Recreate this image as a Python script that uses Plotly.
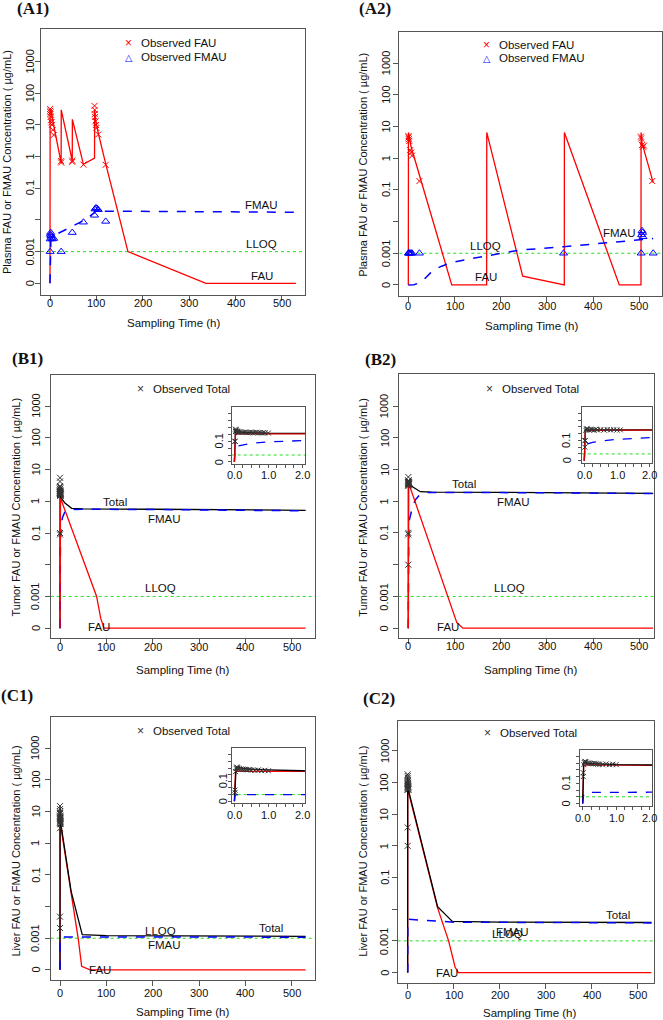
import math
import plotly.graph_objects as go

W, H = 663, 1020
ZERO = 1e-4          # position used for "0" on the pseudo-log axis
LLOQ = 0.001
FONT = "Liberation Sans, Arial, DejaVu Sans, sans-serif"
SERIF = "Liberation Serif, Times New Roman, serif"
FRAME = "#555555"

Y_TICKS = [1e-4, 1e-3, 1e-2, 0.1, 1, 10, 100, 1000]
Y_TEXT = ["0", "0.001", "", "0.1", "1", "10", "100", "1000"]
Y_TEXT_INSET = ["0", "", "", "0.1", "", "", "", ""]
X_TICKS = [0, 100, 200, 300, 400, 500]
X_TEXT = ["0", "100", "200", "300", "400", "500"]
X_TICKS_INSET = [0, 0.25, 0.5, 0.75, 1.0, 1.25, 1.5, 1.75, 2.0]
X_TEXT_INSET = ["0.0", "", "", "", "1.0", "", "", "", "2.0"]

# ---------------- A1: plasma ----------------
a1_fau_t = [0, 0.3, 2, 4, 24, 24.2, 48, 48.2, 72, 96, 96.2, 98, 104, 120, 168, 336, 530]
a1_fau_v = [0, 30, 28, 20, 0.62, 30, 0.74, 15, 0.57, 0.9, 30, 15, 5.5, 0.6, 0.001, 0, 0]
a1_fmau_t = [0, 0.3, 2, 10, 25, 49, 72, 96, 99, 110, 530]
a1_fmau_v = [0, 0.0012, 0.0026, 0.0033, 0.0042, 0.0062, 0.0095, 0.017, 0.021, 0.019, 0.0175]
a1_obs_fau_t = [0.25, 0.5, 0.75, 1, 1.5, 2, 3, 4, 6, 8, 24, 24, 48, 48, 72,
                96, 96.3, 96.5, 97, 98, 99, 100, 104, 120]
a1_obs_fau_v = [32, 28, 22, 25, 18, 14, 12, 10, 7, 4.8, 0.65, 0.72, 0.75, 0.68, 0.56,
                40, 30, 22, 18, 13, 10, 8, 5, 0.55]
a1_obs_fmau_t = [0.25, 0.5, 1, 1.5, 2, 3, 5, 8, 24, 48, 72, 96, 97, 99, 101, 104, 120]
a1_obs_fmau_v = [0.001, 0.0025, 0.0035, 0.004, 0.0032, 0.0028, 0.0025, 0.0026, 0.001,
                 0.004, 0.0085, 0.014, 0.022, 0.024, 0.023, 0.021, 0.009]
a1_lab_text = ["FMAU", "LLOQ", "FAU"]
a1_lab_t = [456, 456, 456]
a1_lab_v = [0.03, 0.0017, 0.00017]

# ---------------- A2: plasma ----------------
a2_fau_t = [0, 0.3, 6, 94, 169.6, 169.8, 247.6, 337.6, 337.8, 456.6, 503.6, 503.8, 506, 530]
a2_fau_v = [0, 6.5, 2.3, 0, 0, 6.5, 0.00019, 0, 6.5, 0, 0, 6.5, 3.0, 0.17]
a2_fmau_t = [0, 12, 24, 36, 48, 60, 72, 96, 130, 168, 200, 240, 336, 440, 504, 530]
a2_fmau_v = [0, 1.02e-4, 1.15e-4, 1.6e-4, 2.4e-4, 3.2e-4, 3.9e-4, 5.2e-4, 6.5e-4,
             8e-4, 1.0e-3, 1.25e-3, 1.6e-3, 2.2e-3, 2.7e-3, 2.9e-3]
a2_obs_fau_t = [0.25, 0.5, 1, 2, 4, 6, 8, 24, 503.5, 504, 506, 508, 510, 528]
a2_obs_fau_v = [4.5, 5, 4, 3.5, 1.8, 1.5, 1.2, 0.19, 4.8, 4.2, 2.6, 2.3, 2.5, 0.19]
a2_obs_fmau_t = [0.25, 1, 2, 4, 6, 8, 24, 336, 504, 505, 506, 507, 508, 530]
a2_obs_fmau_v = [0.001, 0.001, 0.001, 0.001, 0.001, 0.001, 0.001, 0.001, 0.001,
                 0.0038, 0.0051, 0.0045, 0.0033, 0.001]
a2_lab_text = ["LLOQ", "FAU", "FMAU"]
a2_lab_t = [168, 168, 458]
a2_lab_v = [0.0017, 0.00018, 0.0043]

# ---------------- B1: tumor ----------------
b1_total_t = [0, 0.03, 0.08, 0.3, 1, 2, 10, 25, 50, 200, 530]
b1_total_v = [0, 2.6, 2.3, 1.8, 1.4, 1.3, 0.9, 0.6, 0.58, 0.56, 0.52]
b1_fau_t = [0, 0.03, 0.1, 1, 2, 40, 79, 88, 95, 530]
b1_fau_v = [0, 0.8, 1.15, 1.2, 1.15, 0.033, 0.001, 0.0002, 0, 0]
b1_fmau_t = [0, 0.02, 0.1, 0.5, 1, 2, 5, 10, 25, 50, 200, 530]
b1_fmau_v = [0, 0.01, 0.02, 0.05, 0.08, 0.12, 0.3, 0.45, 0.55, 0.56, 0.55, 0.5]
b1_obs_t = [0.017, 0.017, 0.033, 0.033, 0.05, 0.05, 0.083, 0.083, 0.1, 0.1, 0.15, 0.2,
            0.25, 0.3, 0.35, 0.4, 0.45, 0.5, 0.55, 0.6, 0.65, 0.7, 0.75, 0.8, 0.85, 0.9, 1.0]
b1_obs_v = [0.09, 0.1, 2.5, 5.5, 3.0, 4.2, 2.8, 2.2, 2.5, 1.9, 2.2, 2.0, 1.8, 2.1, 1.9,
            1.7, 1.8, 2.0, 1.6, 1.7, 1.9, 1.6, 1.8, 1.5, 1.7, 1.6, 1.5]
b1_lab_text = ["Total", "FMAU", "LLOQ", "FAU"]
b1_lab_t = [119, 226, 216, 85]
b1_lab_v = [0.98, 0.275, 0.0018, 0.000107]

# ---------------- B2: tumor ----------------
b2_total_t = [0, 0.03, 0.1, 2, 10, 26, 50, 200, 530]
b2_total_v = [0, 3.8, 3.5, 3.6, 2.8, 2.0, 1.95, 1.9, 1.78]
b2_fau_t = [0, 0.03, 0.1, 1, 2, 85, 105, 118, 530]
b2_fau_v = [0, 2.5, 3.1, 3.3, 3.3, 0.001, 0.00015, 0, 0]
b2_fmau_t = [0, 0.02, 0.1, 0.25, 0.5, 1, 2, 5, 9, 15, 25, 43, 100, 300, 530]
b2_fmau_v = [0, 0.02, 0.03, 0.05, 0.08, 0.14, 0.25, 0.4, 0.65, 1.1, 1.6, 1.9, 1.9, 1.85, 1.75]
b2_obs_t = [0.017, 0.017, 0.033, 0.05, 0.067, 0.083, 0.1, 0.15, 0.2, 0.25, 0.3, 0.35,
            0.4, 0.5, 0.6, 0.7, 0.8, 0.9, 1.0, 1.1]
b2_obs_v = [0.01, 0.09, 0.1, 3.0, 4.5, 5.8, 4.0, 3.5, 4.2, 3.8, 3.2, 4.5, 3.6, 3.9, 3.3,
            4.0, 3.5, 3.8, 3.4, 3.6]
b2_lab_text = ["Total", "FMAU", "LLOQ", "FAU"]
b2_lab_t = [120, 228, 219, 85]
b2_lab_v = [3.4, 0.98, 0.0018, 0.000107]

# ---------------- C1: liver ----------------
c1_fau_t = [0, 0.03, 0.1, 1, 2, 24, 39.6, 46.7, 65, 530]
c1_fau_v = [0, 2.5, 3.4, 3.3, 3.2, 0.025, 0.0009, 0.00013, 0, 0]
c1_total_t = [0, 0.05, 0.1, 0.3, 1, 2, 24, 48, 100, 530]
c1_total_v = [0, 12, 14, 8, 5.5, 4.0, 0.03, 0.0013, 0.0012, 0.00115]
c1_fmau_t = [0, 0.02, 0.1, 2, 5, 530]
c1_fmau_v = [0, 0.0008, 0.001, 0.001, 0.0011, 0.00108]
c1_obs_t = [0.017, 0.017, 0.033, 0.05, 0.067, 0.083, 0.1, 0.15, 0.2, 0.25, 0.3, 0.35,
            0.4, 0.45, 0.5, 0.6, 0.7, 0.8, 0.9, 1.0]
c1_obs_v = [0.0021, 0.0048, 3.0, 9.0, 15, 12, 10, 8.5, 7.5, 7.0, 6.5, 6.0, 5.5, 6.2, 5.0,
            4.6, 5.3, 4.2, 4.8, 4.0]
c1_lab_text = ["LLOQ", "Total", "FMAU", "FAU"]
c1_lab_t = [216, 455, 226, 86]
c1_lab_v = [0.0017, 0.0021, 0.00059, 0.0001]

# ---------------- C2: liver ----------------
c2_fau_t = [0, 0.03, 0.1, 1, 2, 65, 89, 103, 110, 530]
c2_fau_v = [0, 40, 55, 50, 48, 0.011, 0.001, 0.00015, 0, 0]
c2_total_t = [0, 0.03, 0.1, 0.5, 1, 2, 65, 97, 200, 530]
c2_total_v = [0, 150, 90, 70, 60, 55, 0.012, 0.0041, 0.0039, 0.0038]
c2_fmau_t = [0, 0.03, 0.1, 2, 50, 100, 530]
c2_fmau_v = [0, 0.002, 0.0045, 0.0048, 0.0043, 0.0039, 0.0037]
c2_obs_t = [0.017, 0.017, 0.033, 0.05, 0.067, 0.083, 0.1, 0.15, 0.2, 0.25, 0.3, 0.35,
            0.4, 0.45, 0.5, 0.6, 0.7, 0.8, 0.9, 1.0]
c2_obs_v = [1.0, 3.8, 60, 120, 180, 160, 140, 110, 100, 90, 85, 95, 80, 75, 70, 65, 75,
            60, 70, 60]
c2_lab_text = ["Total", "FMAU", "LLOQ", "FAU"]
c2_lab_t = [458, 228, 217, 85]
c2_lab_v = [0.0065, 0.0019, 0.00166, 0.000095]


def conc(v):
    return [ZERO if x <= 0 else x for x in v]


fig = go.Figure()
layout = {}
annotations = []
counter = [0]
TICK_FONT = dict(family=FONT, size=11, color="#111111")


def new_axes(box, xr, yr, ylab_x, xlab_y, inset=False):
    counter[0] += 1
    n = counter[0]
    s = "" if n == 1 else str(n)
    x0, y0, x1, y1 = box
    xn, yn = "x" + s, "y" + s
    common = dict(showline=True, linecolor=FRAME, linewidth=1, mirror=True,
                  ticks="outside", tickcolor=FRAME, showgrid=False, zeroline=False,
                  showticklabels=False, ticklen=3 if inset else 5)
    xt, xtt = (X_TICKS_INSET, X_TEXT_INSET) if inset else (X_TICKS, X_TEXT)
    ytt = Y_TEXT_INSET if inset else Y_TEXT
    layout["xaxis" + s] = dict(domain=[x0 / W, x1 / W], range=xr, anchor=yn,
                               tickvals=xt, **common)
    layout["yaxis" + s] = dict(domain=[1 - y1 / H, 1 - y0 / H], type="log",
                               range=list(yr), anchor=xn, tickvals=Y_TICKS, **common)
    # tick labels placed as text (R style: parallel to the axis)
    for v, txt in zip(xt, xtt):
        if txt:
            annotations.append(dict(xref=xn, yref="paper", x=v, y=1 - xlab_y / H, text=txt,
                                    showarrow=False, xanchor="center", yanchor="middle",
                                    font=TICK_FONT))
    for v, txt in zip(Y_TICKS, ytt):
        if txt:
            annotations.append(dict(xref="paper", yref=yn, x=ylab_x / W, y=math.log10(v),
                                    text=txt, textangle=-90, showarrow=False,
                                    xanchor="center", yanchor="middle", font=TICK_FONT))
    # LLOQ reference line across the whole panel
    fig.add_trace(go.Scatter(x=list(xr), y=[LLOQ, LLOQ], mode="lines", xaxis=xn, yaxis=yn,
                             line=dict(color="#22dd22", width=1, dash="dot"),
                             showlegend=False, hoverinfo="skip"))
    return xn, yn


def line(xa, ya, t, v, color, dash="solid", width=1.3):
    fig.add_trace(go.Scatter(x=t, y=conc(v), mode="lines", xaxis=xa, yaxis=ya,
                             line=dict(color=color, width=width, dash=dash),
                             showlegend=False, hoverinfo="skip"))


def points(xa, ya, t, v, color, symbol, size):
    fig.add_trace(go.Scatter(x=t, y=conc(v), mode="markers", xaxis=xa, yaxis=ya,
                             marker=dict(symbol=symbol, size=size, color=color,
                                         line=dict(color=color, width=1)),
                             showlegend=False, hoverinfo="skip"))


def labels(xa, ya, texts, ts, vs):
    for txt, t, v in zip(texts, ts, vs):
        annotations.append(dict(xref=xa, yref=ya, x=t, y=math.log10(v), text=txt,
                                showarrow=False, xanchor="center", yanchor="middle",
                                font=dict(family=FONT, size=11.5, color="#111111")))


def paper_text(x, y, text, size=11.5, angle=0, anchor="center", family=FONT, color="#111111"):
    annotations.append(dict(xref="paper", yref="paper", x=x / W, y=1 - y / H, text=text,
                            showarrow=False, xanchor=anchor, yanchor="middle",
                            textangle=angle, font=dict(family=family, size=size, color=color)))


def frame_texts(title, tpos, xt_pos, yt_pos, ytitle):
    paper_text(tpos[0], tpos[1], "<b>" + title + "</b>", size=17, family=SERIF)
    paper_text(xt_pos[0], xt_pos[1], "Sampling Time (h)", size=11.5)
    paper_text(yt_pos[0], yt_pos[1], ytitle, size=11, angle=-90)


def legend(x, y, glyph, color, text, gsize=12):
    paper_text(x, y, glyph, size=gsize, color=color)
    paper_text(x + 10.5, y, text, size=11.5, anchor="left")


RED, BLUE, BLACK, GREY = "#ff0000", "#0000ff", "#000000", "#333333"
TP = "Plasma FAU or FMAU Concentration ( µg/mL)"
TT = "Tumor FAU or FMAU Concentration ( µg/mL)"
TL = "Liver FAU or FMAU Concentration ( µg/mL)"

# ---- A1 ----
xa, ya = new_axes((41, 29, 305, 295), [-19.4, 549.6], [-4.37, 4.03], 30, 303)
line(xa, ya, a1_fau_t, a1_fau_v, RED)
line(xa, ya, a1_fmau_t, a1_fmau_v, BLUE, dash="dash", width=1.5)
points(xa, ya, a1_obs_fau_t, a1_obs_fau_v, RED, "x-thin", 6)
points(xa, ya, a1_obs_fmau_t, a1_obs_fmau_v, BLUE, "triangle-up-open", 7)
labels(xa, ya, a1_lab_text, a1_lab_t, a1_lab_v)
frame_texts("(A1)", (33, 9), (173, 323), (7, 162), TP)
legend(128.5, 43.5, "×", RED, "Observed FAU")
legend(128.5, 57, "△", BLUE, "Observed FMAU", gsize=9.5)

# ---- A2 ----
xa, ya = new_axes((399.3, 31.5, 661.5, 296), [-19.5, 548], [-4.35, 4.0], 386, 306)
line(xa, ya, a2_fau_t, a2_fau_v, RED)
line(xa, ya, a2_fmau_t, a2_fmau_v, BLUE, dash="dash", width=1.5)
points(xa, ya, a2_obs_fau_t, a2_obs_fau_v, RED, "x-thin", 6)
points(xa, ya, a2_obs_fmau_t, a2_obs_fmau_v, BLUE, "triangle-up-open", 7)
labels(xa, ya, a2_lab_text, a2_lab_t, a2_lab_v)
frame_texts("(A2)", (375, 9), (531, 326), (362.7, 165), TP)
legend(486.7, 45, "×", RED, "Observed FAU")
legend(486.7, 58.3, "△", BLUE, "Observed FMAU", gsize=9.5)

# ---- B1 ----
xa, ya = new_axes((50.7, 375, 315, 637.7), [-20.1, 550.3], [-4.3, 3.98], 35.7, 646.7)
line(xa, ya, b1_total_t, b1_total_v, BLACK)
line(xa, ya, b1_fmau_t, b1_fmau_v, BLUE, dash="dash", width=1.5)
line(xa, ya, b1_fau_t, b1_fau_v, RED)
points(xa, ya, b1_obs_t, b1_obs_v, GREY, "x-thin", 6)
labels(xa, ya, b1_lab_text, b1_lab_t, b1_lab_v)
frame_texts("(B1)", (27, 358), (182, 670), (15, 507.5), TT)
legend(140, 389, "×", GREY, "Observed Total")
xi, yi = new_axes((231.7, 406.7, 305, 464), [-0.08, 2.08], [-4.3, 3.98], 219.3, 475,
                  inset=True)
line(xi, yi, b1_total_t, b1_total_v, BLACK)
line(xi, yi, b1_fmau_t, b1_fmau_v, BLUE, dash="dash", width=1.3)
line(xi, yi, b1_fau_t, b1_fau_v, "#cc0000")
points(xi, yi, b1_obs_t, b1_obs_v, GREY, "x-thin", 5)

# ---- B2 ----
xa, ya = new_axes((398.7, 374.3, 653.7, 637.7), [-20.8, 531], [-4.3, 4.0], 384.3, 646)
line(xa, ya, b2_total_t, b2_total_v, BLACK)
line(xa, ya, b2_fmau_t, b2_fmau_v, BLUE, dash="dash", width=1.5)
line(xa, ya, b2_fau_t, b2_fau_v, RED)
points(xa, ya, b2_obs_t, b2_obs_v, GREY, "x-thin", 6)
labels(xa, ya, b2_lab_text, b2_lab_t, b2_lab_v)
frame_texts("(B2)", (381, 359), (530.7, 670), (362.7, 507), TT)
legend(489.3, 389, "×", GREY, "Observed Total")
xi, yi = new_axes((581.7, 406.7, 652.3, 462.7), [-0.08, 2.08], [-4.3, 3.98], 566.5, 475,
                  inset=True)
line(xi, yi, b2_total_t, b2_total_v, BLACK)
line(xi, yi, b2_fmau_t, b2_fmau_v, BLUE, dash="dash", width=1.3)
line(xi, yi, b2_fau_t, b2_fau_v, "#cc0000")
points(xi, yi, b2_obs_t, b2_obs_v, GREY, "x-thin", 5)

# ---- C1 ----
xa, ya = new_axes((50.7, 716.7, 315, 980), [-20.1, 550.3], [-4.32, 4.0], 35.7, 993.3)
line(xa, ya, c1_fau_t, c1_fau_v, RED)
line(xa, ya, c1_total_t, c1_total_v, BLACK)
line(xa, ya, c1_fmau_t, c1_fmau_v, BLUE, dash="dash", width=1.5)
points(xa, ya, c1_obs_t, c1_obs_v, GREY, "x-thin", 6)
labels(xa, ya, c1_lab_text, c1_lab_t, c1_lab_v)
frame_texts("(C1)", (17, 695), (182, 1011.7), (15, 851.5), TL)
legend(140.7, 731, "×", GREY, "Observed Total")
xi, yi = new_axes((231.7, 748.3, 305, 803.3), [-0.08, 2.08], [-4.32, 4.0], 223, 815,
                  inset=True)
line(xi, yi, c1_fau_t, c1_fau_v, RED)
line(xi, yi, c1_total_t, c1_total_v, BLACK)
line(xi, yi, c1_fmau_t, c1_fmau_v, BLUE, dash="dash", width=1.3)
points(xi, yi, c1_obs_t, c1_obs_v, GREY, "x-thin", 5)

# ---- C2 ----
xa, ya = new_axes((397.7, 720.7, 653.7, 982.7), [-21.7, 534.8], [-4.32, 3.95], 384.3, 995)
line(xa, ya, c2_fau_t, c2_fau_v, RED)
line(xa, ya, c2_total_t, c2_total_v, BLACK)
line(xa, ya, c2_fmau_t, c2_fmau_v, BLUE, dash="dash", width=1.5)
points(xa, ya, c2_obs_t, c2_obs_v, GREY, "x-thin", 6)
labels(xa, ya, c2_lab_text, c2_lab_t, c2_lab_v)
frame_texts("(C2)", (378.5, 698), (529.3, 1013), (362.7, 851), TL)
legend(487.7, 733.3, "×", GREY, "Observed Total")
xi, yi = new_axes((580, 750, 652.3, 805.7), [-0.08, 2.08], [-4.32, 3.95], 566, 817.7,
                  inset=True)
line(xi, yi, c2_fau_t, c2_fau_v, RED)
line(xi, yi, c2_total_t, c2_total_v, BLACK)
line(xi, yi, c2_fmau_t, c2_fmau_v, BLUE, dash="dash", width=1.3)
points(xi, yi, c2_obs_t, c2_obs_v, GREY, "x-thin", 5)

fig.update_layout(width=W, height=H, autosize=False,
                  margin=dict(l=0, r=0, t=0, b=0, pad=0),
                  paper_bgcolor="white", plot_bgcolor="white",
                  font=dict(family=FONT, size=11.5, color="#111111"),
                  annotations=annotations, **layout)
fig.write_html("out.html", config={"displayModeBar": False},
               post_script="document.body.style.margin='0';document.body.style.overflow='hidden';")
